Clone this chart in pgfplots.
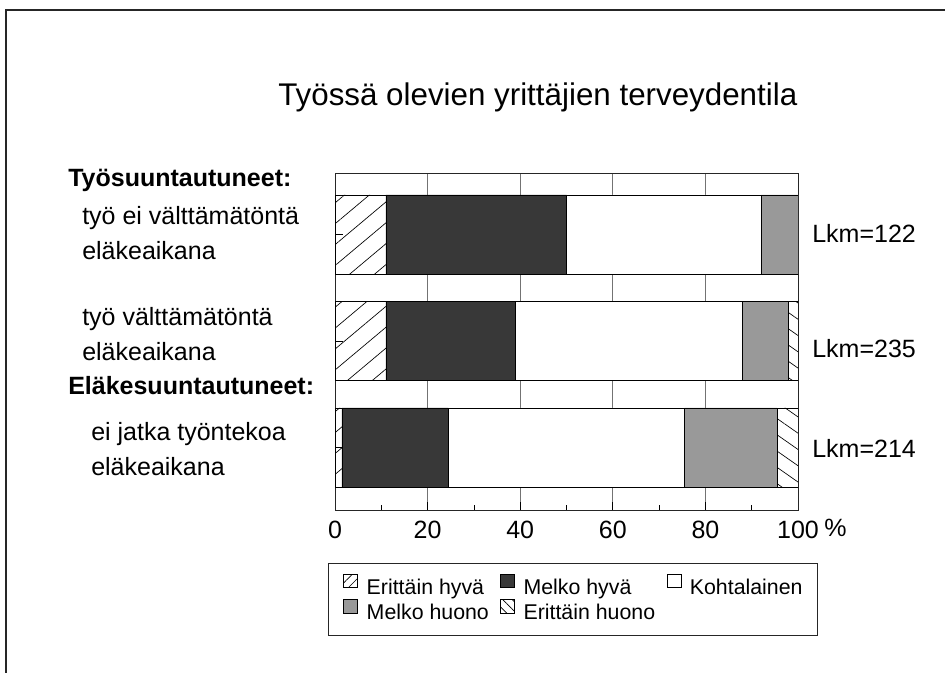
\documentclass[border=0pt]{standalone}
\usepackage{pgfplots}
\pgfplotsset{compat=1.18}
\usepackage{fontspec}
\setmainfont{Liberation Sans}
\usetikzlibrary{patterns.meta}
\begin{document}
\begin{tikzpicture}
\clip (0pt,0pt) rectangle (708.75pt,504pt);
\fill[white] (0pt,0pt) rectangle (708.75pt,504pt);
\draw[black!85, line width=1.5pt] (4.5pt,496.5pt) rectangle (735pt,-22.5pt);
% title
\node[anchor=base west, inner sep=0pt, font=\fontsize{23.5}{28}\selectfont] at (208.5pt,424.5pt) {Työssä olevien yrittäjien terveydentila};
% left labels
\begin{scope}[every node/.style={anchor=base west, inner sep=0pt, font=\fontsize{18.75}{22}\selectfont}]
\node at (51pt,363.75pt) {\bfseries Työsuuntautuneet:};
\node at (61.5pt,335.25pt) {työ ei välttämätöntä};
\node at (61.5pt,309pt) {eläkeaikana};
\node at (61.5pt,260.25pt) {työ välttämätöntä};
\node at (61.5pt,234pt) {eläkeaikana};
\node at (51pt,208.5pt) {\bfseries Eläkesuuntautuneet:};
\node at (68.25pt,174pt) {ei jatka työntekoa};
\node at (68.25pt,147.75pt) {eläkeaikana};
\node at (609pt,321.75pt) {Lkm=122};
\node at (609pt,236.25pt) {Lkm=235};
\node at (609pt,161.25pt) {Lkm=214};
\node at (618pt,102pt) {\%};
\end{scope}
\begin{axis}[
  at={(251.25pt,121.5pt)}, anchor=south west,
  scale only axis, width=347.25pt, height=252.75pt,
  xbar stacked, bar width=0.742,
  xmin=0, xmax=100, ymin=0.423, ymax=3.587, y dir=reverse,
  xtick={0,20,...,100}, minor xtick={10,30,...,90},
  ytick={1,2,3}, yticklabels={},
  xtick pos=bottom, ytick pos=left, tick align=inside,
  major tick length=6pt, minor tick length=4pt,
  tick style={black, line width=0.5pt},
  xmajorgrids, major grid style={black!55, line width=0.5pt},
  axis line style={black!85, line width=0.75pt},
  /pgf/number format/assume math mode=true,
  xticklabel style={font=\fontsize{18.75}{22}\selectfont, yshift=-5pt},
  legend columns=3,
  legend cell align=left,
  legend style={at={(-0.0151,-0.1573)}, anchor=north west,
    draw=black!85, line width=0.6pt,
    font=\fontsize{16}{18}\selectfont,
    inner xsep=11.25pt, inner ysep=8pt,
    row sep=0pt,
    /tikz/every odd column/.append style={column sep=6.5pt},
    /tikz/every even column/.append style={column sep=8.5pt},
    nodes={inner sep=0pt, text height=12.5pt, text depth=4pt}},
  legend image code/.code={\draw[#1, line width=0.5pt] (0pt,0.5pt) rectangle (10.5pt,10.5pt);},
  every axis plot/.append style={draw=black, line width=0.6pt},
]
\addplot[forget plot, pattern={Lines[angle=40,distance=12pt,line width=0.5pt]}] coordinates {(11,1) (11,2) (1.5,3)};
\addplot[forget plot, fill=black!78] coordinates {(39,1) (28,2) (23,3)};
\addplot[forget plot, fill=white] coordinates {(42,1) (49,2) (51,3)};
\addplot[forget plot, fill=black!40] coordinates {(8,1) (10,2) (20,3)};
\addplot[forget plot, pattern={Lines[angle=-35,distance=10pt,line width=0.5pt]}] coordinates {(0,1) (2,2) (4.5,3)};
\addlegendimage{draw=black, pattern={Lines[angle=45,distance=5pt,line width=0.5pt]}}
\addlegendimage{draw=black, fill=black!78}
\addlegendimage{draw=black, fill=white}
\addlegendimage{draw=black, fill=black!40}
\addlegendimage{draw=black, pattern={Lines[angle=-45,distance=5pt,line width=0.5pt]}}
\legend{Erittäin hyvä, Melko hyvä, Kohtalainen, Melko huono, Erittäin huono}
\end{axis}
\end{tikzpicture}
\end{document}
